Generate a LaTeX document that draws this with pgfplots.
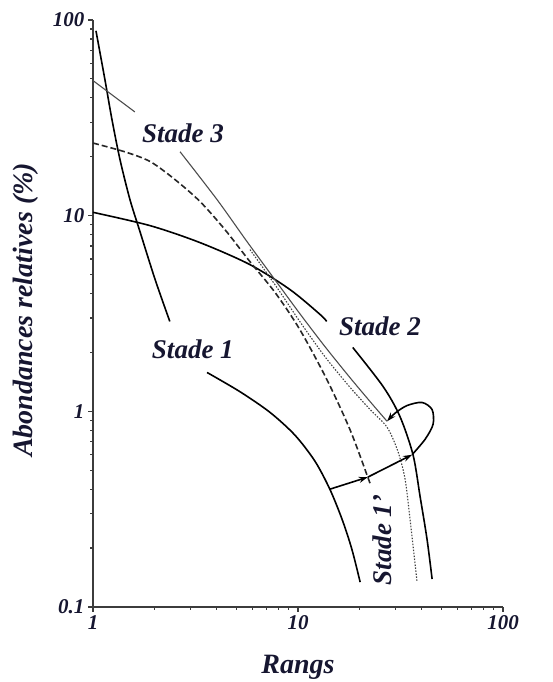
\documentclass[border=0pt]{standalone}
\usepackage{fontspec}
\setmainfont{Liberation Serif}
\usepackage{pgfplots}
\pgfplotsset{compat=1.18}
\usetikzlibrary{arrows.meta}
\definecolor{txt}{RGB}{22,22,48}
\definecolor{axc}{RGB}{60,60,60}
\begin{document}
\begin{tikzpicture}
\begin{axis}[
  at={(0,0)}, anchor=south west,
  scale only axis, width=410pt, height=587pt,
  xmode=log, ymode=log,
  xmin=1, xmax=100, ymin=0.1, ymax=100,
  axis lines*=left,
  axis line style={axc, line width=1.4pt},
  xtick={1,10,100}, xticklabels={1,10,100},
  ytick={0.1,1,10,100}, yticklabels={0.1,1,10,100},
  minor tick num=0, minor xtick={}, minor ytick={},
  tick align=outside, major tick length=5pt,
  tick style={axc, line width=1.2pt},
  /pgf/number format/assume math mode=true,
  ticklabel style={font=\fontsize{21}{24}\selectfont\bfseries\itshape, text=txt},
  xlabel={Rangs}, ylabel={Abondances relatives (\%)},
  label style={font=\fontsize{28}{32}\selectfont\bfseries\itshape, text=txt},
  xlabel style={at={(axis description cs:0.5,-0.102)}, anchor=center},
  ylabel style={at={(axis description cs:-0.163,0.506)}, anchor=center, rotate=0},
  clip=false,
]
% Stade 1 (steep part)
\addplot[black, line width=1.6pt, smooth] coordinates {(1.034,88) (1.144,49.4) (1.238,30.9) (1.355,19.3) (1.515,12.07) (1.695,8.29) (2.01,4.71) (2.37,2.88)};
% Stade 1 (lower curve)
\addplot[black, line width=1.6pt, smooth] coordinates {(3.60,1.58) (5.21,1.26) (7.30,0.988) (9.67,0.755) (12.1,0.556) (14.3,0.40) (16.4,0.281) (18.3,0.198) (20.1,0.134)};
% Stade 2
\addplot[black, line width=1.6pt, smooth] coordinates {(1,10.4) (1.90,8.89) (3.33,7.28) (5.83,5.62) (9.14,4.19) (12.8,3.13) (13.8,2.88)};
\addplot[black, line width=1.6pt, smooth] coordinates {(18.5,2.12) (26.0,1.34) (31.4,0.943) (36.4,0.60) (39.4,0.368) (42.6,0.222) (45.1,0.139)};
% Stade 1' (dashed)
\addplot[black!85, line width=1.6pt, smooth, dash pattern=on 6pt off 3pt] coordinates {(1,23.5) (1.43,21.2) (1.90,18.9) (2.51,15.3) (3.33,11.8) (4.40,8.49) (5.83,5.82) (7.73,4.05) (10.2,2.62) (13.8,1.46) (17.9,0.81) (21.9,0.461) (22.6,0.42)};
% Stade 3 (thin grey)
\addplot[black!70, line width=1.1pt] coordinates {(1,49) (1.60,33.9)};
\addplot[black!70, line width=1.1pt, smooth] coordinates {(2.66,21.2) (4.03,12.07) (5.64,7.37) (7.90,4.55) (10.2,3.16) (13.5,2.15) (17.9,1.49) (22.5,1.12) (27.2,0.889)};
% dotted curve
\addplot[black!75, line width=1.1pt, smooth, dash pattern=on 1.5pt off 1.5pt] coordinates {(5.83,6.71) (7.90,4.29) (10.2,2.88) (13.5,1.91) (17.9,1.33) (22.5,1.02) (27.2,0.829) (30.7,0.625) (33.3,0.45) (35.2,0.281) (36.8,0.186) (38.1,0.134)};
% arrows
\addplot[black, line width=1.6pt, -{Stealth[length=9pt,width=6pt]}] coordinates {(14.3,0.40) (21.9,0.461)};
\addplot[black, line width=1.6pt, -{Stealth[length=9pt,width=6pt]}] coordinates {(21.9,0.461) (36.0,0.60)};
\addplot[black, line width=1.6pt, smooth, -{Stealth[length=9pt,width=6pt]}] coordinates {(36.0,0.60) (41.7,0.72) (45.6,0.859) (45.1,1.02) (40.3,1.11) (34.0,1.07) (29.7,0.977) (27.2,0.889)};
% labels
\node[font=\fontsize{27}{30}\selectfont\bfseries\itshape, text=txt] at (axis cs:2.75,26.5) {Stade 3};
\node[font=\fontsize{27}{30}\selectfont\bfseries\itshape, text=txt] at (axis cs:3.07,2.07) {Stade 1};
\node[font=\fontsize{27}{30}\selectfont\bfseries\itshape, text=txt] at (axis cs:25.1,2.72) {Stade 2};
\node[font=\fontsize{27}{30}\selectfont\bfseries\itshape, text=txt, rotate=90] at (axis cs:25.7,0.22) {Stade 1'};
\end{axis}
\pgfresetboundingbox
\path (-93pt,-75pt) rectangle (460pt,607pt);
\end{tikzpicture}
\end{document}
